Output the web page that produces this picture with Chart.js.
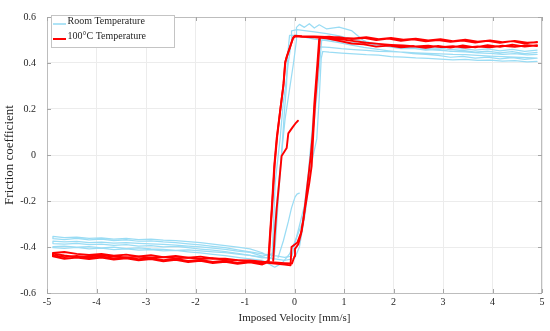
<!DOCTYPE html>
<html>
<head>
<meta charset="utf-8">
<script src="https://cdn.jsdelivr.net/npm/chart.js@4/dist/chart.umd.min.js"></script>
<style>
html,body{margin:0;padding:0;background:#fff;}
#wrap{width:550px;height:331px;position:relative;}
</style>
</head>
<body>
<div id="wrap"><canvas id="c" width="550" height="331"></canvas></div>
<script>
// ---- axis ticks ----
const xTicks = [-5,-4,-3,-2,-1,0,1,2,3,4,5];
const yTicks = [-0.6,-0.4,-0.2,0,0.2,0.4,0.6];
const yTickLabels = ['-0.6','-0.4','-0.2','0','0.2','0.4','0.6'];
const seriesNames = ['Room Temperature','100°C Temperature'];

// ---- shared velocity sampling for the plateaus (mm/s) ----
const vTopDesc = [4.9,4.65,4.4,4.15,3.9,3.65,3.4,3.15,2.9,2.65,2.4,2.15,1.9,1.65,1.4,1.15,0.9,0.65];
const vTopAsc  = [0.7,0.95,1.2,1.45,1.7,1.95,2.2,2.45,2.7,2.95,3.2,3.45,3.7,3.95,4.2,4.45,4.7,4.9];
const vBotDesc = [-0.65,-0.9,-1.15,-1.4,-1.65,-1.9,-2.15,-2.4,-2.65,-2.9,-3.15,-3.4,-3.65,-3.9,-4.15,-4.4,-4.65,-4.88];
const vBotAsc  = [-4.88,-4.65,-4.4,-4.15,-3.9,-3.65,-3.4,-3.15,-2.9,-2.65,-2.4,-2.15,-1.9,-1.65,-1.4,-1.15,-0.9,-0.65];

// ---- 100°C, cycle 1 ----
const r1TopL = [0.492,0.484,0.495,0.488,0.497,0.489,0.498,0.492,0.500,0.494,0.503,0.496,0.506,0.500,0.509,0.504,0.512,0.513];
const r1LeftV = [0.4,0.15,0.01,-0.024,-0.158,-0.19,-0.226,-0.293,-0.36,-0.41,-0.46,-0.50,-0.53];
const r1LeftF = [0.515,0.516,0.519,0.512,0.427,0.40,0.30,0.187,0.072,-0.05,-0.233,-0.36,-0.46];
const r1BotL = [-0.471,-0.463,-0.469,-0.460,-0.465,-0.456,-0.461,-0.452,-0.457,-0.448,-0.453,-0.445,-0.450,-0.441,-0.447,-0.439,-0.444,-0.436];
const r1BotR = [-0.426,-0.422,-0.430,-0.435,-0.430,-0.438,-0.433,-0.441,-0.436,-0.444,-0.439,-0.447,-0.442,-0.450,-0.451,-0.457,-0.458,-0.464];
const r1RightV = [-0.4,-0.2,-0.05,0.0,0.01,0.077,0.145,0.212,0.30,0.347,0.38,0.414,0.475,0.515];
const r1RightF = [-0.467,-0.470,-0.472,-0.44,-0.408,-0.388,-0.332,-0.233,-0.12,-0.047,0.094,0.221,0.39,0.512];
const r1TopR = [0.514,0.509,0.507,0.512,0.503,0.509,0.501,0.506,0.498,0.503,0.495,0.501,0.493,0.498,0.490,0.496,0.488,0.490];

// ---- 100°C, cycle 2 ----
const r2TopL = [0.477,0.471,0.480,0.470,0.477,0.468,0.476,0.467,0.474,0.466,0.473,0.468,0.476,0.471,0.481,0.485,0.496,0.507];
const r2LeftV = [0.4,0.15,0.02,-0.03,-0.15,-0.185,-0.22,-0.29,-0.35,-0.40,-0.45,-0.49,-0.52];
const r2LeftF = [0.512,0.514,0.516,0.508,0.43,0.405,0.31,0.19,0.08,-0.04,-0.22,-0.35,-0.465];
const r2BotL = [-0.476,-0.467,-0.473,-0.464,-0.470,-0.460,-0.466,-0.456,-0.462,-0.452,-0.458,-0.449,-0.455,-0.446,-0.452,-0.446,-0.451,-0.441];
const r2BotR = [-0.429,-0.437,-0.444,-0.440,-0.436,-0.441,-0.445,-0.442,-0.447,-0.444,-0.449,-0.446,-0.452,-0.449,-0.455,-0.458,-0.462,-0.467];
const r2RightV = [-0.4,-0.2,-0.08,-0.06,0.06,0.13,0.18,0.245,0.33,0.37,0.40,0.46,0.50];
const r2RightF = [-0.472,-0.476,-0.48,-0.40,-0.38,-0.34,-0.28,-0.16,0.0,0.10,0.22,0.39,0.51];
const r2TopR = [0.511,0.503,0.495,0.488,0.483,0.479,0.476,0.472,0.475,0.469,0.473,0.467,0.472,0.468,0.475,0.470,0.477,0.474];

// ---- 100°C, initial loading ----
const redStartV = [0.07,0.03,-0.04,-0.125,-0.158,-0.26,-0.31,-0.36,-0.40,-0.43];
const redStartF = [0.149,0.14,0.12,0.094,0.03,-0.004,-0.12,-0.233,-0.35,-0.46];

// ---- Room temperature, cycle 1 ----
const b1TopL = [0.446,0.441,0.449,0.444,0.452,0.447,0.455,0.451,0.459,0.456,0.464,0.462,0.471,0.478,0.497,0.541,0.556,0.548];
const b1LeftV = [0.5,0.4,0.3,0.2,0.1,0.04,0.04,-0.02,-0.09,-0.19,-0.26,-0.33,-0.40,-0.44,-0.47];
const b1LeftF = [0.566,0.552,0.571,0.555,0.568,0.555,0.50,0.40,0.30,0.157,0.008,-0.15,-0.30,-0.42,-0.445];
const b1BotL = [-0.447,-0.436,-0.431,-0.424,-0.421,-0.417,-0.413,-0.415,-0.410,-0.408,-0.404,-0.407,-0.401,-0.404,-0.398,-0.401,-0.396,-0.398];
const b1BotR = [-0.403,-0.406,-0.402,-0.408,-0.405,-0.411,-0.408,-0.414,-0.411,-0.417,-0.415,-0.421,-0.426,-0.432,-0.437,-0.445,-0.452,-0.458];
const b1RightV = [-0.4,-0.25,-0.1,0.0,0.15,0.25,0.32,0.40,0.47,0.53,0.55];
const b1RightF = [-0.488,-0.47,-0.43,-0.38,-0.30,-0.16,0.0,0.15,0.30,0.45,0.50];
const b1TopR = [0.502,0.494,0.488,0.481,0.475,0.470,0.466,0.462,0.458,0.455,0.451,0.448,0.444,0.442,0.438,0.441,0.435,0.437];

// ---- Room temperature, cycle 2 ----
const b2TopL = [0.456,0.451,0.459,0.453,0.461,0.456,0.463,0.458,0.466,0.462,0.469,0.467,0.476,0.484,0.493,0.505,0.518,0.528];
const b2LeftV = [0.4,0.2,0.05,-0.06,-0.06,-0.125,-0.18,-0.226,-0.29,-0.39,-0.43,-0.45];
const b2LeftF = [0.535,0.541,0.545,0.54,0.498,0.40,0.30,0.23,0.072,-0.119,-0.33,-0.43];
const b2BotL = [-0.440,-0.423,-0.418,-0.410,-0.405,-0.399,-0.396,-0.392,-0.389,-0.386,-0.384,-0.381,-0.383,-0.379,-0.381,-0.376,-0.378,-0.374];
const b2BotR = [-0.385,-0.388,-0.384,-0.390,-0.387,-0.393,-0.390,-0.396,-0.394,-0.399,-0.397,-0.403,-0.409,-0.414,-0.420,-0.428,-0.436,-0.444];
const b2RightV = [-0.4,-0.2,0.0,0.1,0.22,0.33,0.45,0.50,0.54,0.57];
const b2RightF = [-0.452,-0.458,-0.45,-0.40,-0.25,-0.05,0.07,0.25,0.42,0.45];
const b2TopR = [0.447,0.443,0.440,0.436,0.434,0.428,0.426,0.422,0.420,0.417,0.414,0.416,0.411,0.413,0.408,0.410,0.405,0.407];

// ---- Room temperature, cycle 3 ----
const b3TopL = [0.421,0.416,0.423,0.418,0.426,0.421,0.429,0.425,0.433,0.437,0.441,0.447,0.453,0.460,0.468,0.478,0.489,0.497];
const b3LeftV = [0.4,0.2,0.0,-0.1,-0.14,-0.16,-0.2,-0.26,-0.33,-0.39,-0.42];
const b3LeftF = [0.504,0.512,0.520,0.52,0.43,0.306,0.2,0.008,-0.2,-0.40,-0.455];
const b3BotL = [-0.425,-0.408,-0.401,-0.394,-0.388,-0.381,-0.377,-0.372,-0.370,-0.366,-0.368,-0.363,-0.366,-0.360,-0.362,-0.357,-0.359,-0.354];
const b3BotR = [-0.364,-0.368,-0.363,-0.369,-0.366,-0.372,-0.369,-0.375,-0.373,-0.378,-0.381,-0.386,-0.391,-0.397,-0.403,-0.412,-0.421,-0.430];
const b3RightV = [-0.4,-0.2,-0.05,0.05,0.2,0.28,0.36,0.44,0.50,0.52];
const b3RightF = [-0.438,-0.445,-0.44,-0.35,-0.22,-0.08,0.12,0.30,0.45,0.47];
const b3TopR = [0.468,0.462,0.458,0.455,0.451,0.449,0.447,0.444,0.442,0.440,0.437,0.436,0.433,0.430,0.428,0.426,0.423,0.421];

// ---- Room temperature, initial loading ----
const blueStartV = [0.097,0.05,0.01,-0.06,-0.125,-0.226,-0.33];
const blueStartF = [-0.166,-0.17,-0.183,-0.23,-0.29,-0.374,-0.445];

// ---------- build datasets ----------
function seg(vs, fs){ return vs.map((v,i)=>({x:v, y:fs[i]})); }
function cycle(topL, leftV, leftF, botL, botR, rightV, rightF, topR){
  return [].concat(seg(vTopDesc, topL), seg(leftV, leftF), seg(vBotDesc, botL),
                   seg(vBotAsc, botR), seg(rightV, rightF), seg(vTopAsc, topR));
}
const BLUE = '#9adcf4', RED = '#ff0000';
function ds(label, color, width, data, order){
  return {label, data, borderColor:color, backgroundColor:color, borderWidth:width,
          showLine:true, pointRadius:0, pointHoverRadius:0, tension:0, fill:false,
          borderJoinStyle:'round', borderCapStyle:'round', order};
}
const datasets = [
  ds(seriesNames[0], BLUE, 1.25, cycle(b1TopL,b1LeftV,b1LeftF,b1BotL,b1BotR,b1RightV,b1RightF,b1TopR), 1),
  ds('', BLUE, 1.25, cycle(b2TopL,b2LeftV,b2LeftF,b2BotL,b2BotR,b2RightV,b2RightF,b2TopR), 1),
  ds('', BLUE, 1.25, cycle(b3TopL,b3LeftV,b3LeftF,b3BotL,b3BotR,b3RightV,b3RightF,b3TopR), 1),
  ds('', BLUE, 1.25, seg(blueStartV, blueStartF), 1),
  ds(seriesNames[1], RED, 1.9, cycle(r1TopL,r1LeftV,r1LeftF,r1BotL,r1BotR,r1RightV,r1RightF,r1TopR), 0),
  ds('', RED, 1.9, cycle(r2TopL,r2LeftV,r2LeftF,r2BotL,r2BotR,r2RightV,r2RightF,r2TopR), 0),
  ds('', RED, 1.9, seg(redStartV, redStartF), 0)
];

const FONT = "'Liberation Serif', 'Times New Roman', serif";
const TXT = '#262626';

// box, inward ticks and in-plot legend
const framePlugin = {
  id: 'frame',
  beforeDraw(chart){
    const ctx = chart.ctx;
    ctx.save(); ctx.fillStyle = '#fff'; ctx.fillRect(0,0,chart.width,chart.height); ctx.restore();
  },
  afterDatasetsDraw(chart){
    const {ctx, chartArea:a, scales} = chart;
    ctx.save();
    ctx.strokeStyle = '#bdbdbd'; ctx.lineWidth = 1;
    ctx.strokeRect(Math.round(a.left)+0.5, Math.round(a.top)+0.5, Math.round(a.right-a.left)-1, Math.round(a.bottom-a.top));
    ctx.strokeStyle = '#a6a6a6';
    ctx.beginPath();
    xTicks.forEach(v=>{
      const x = Math.round(scales.x.getPixelForValue(v))+0.5;
      ctx.moveTo(x, a.bottom); ctx.lineTo(x, a.bottom-4);
      ctx.moveTo(x, a.top); ctx.lineTo(x, a.top+4);
    });
    yTicks.forEach(v=>{
      const y = Math.round(scales.y.getPixelForValue(v))+0.5;
      ctx.moveTo(a.left, y); ctx.lineTo(a.left+4, y);
      ctx.moveTo(a.right, y); ctx.lineTo(a.right-4, y);
    });
    ctx.stroke();
    // legend
    const lx = 51.5, ly = 15.5, lw = 123, lh = 32;
    ctx.fillStyle = '#fff'; ctx.fillRect(lx, ly, lw, lh);
    ctx.strokeStyle = '#c4c4c4'; ctx.strokeRect(lx, ly, lw, lh);
    const items = [{t:seriesNames[0], c:BLUE, w:1.6, y:24}, {t:seriesNames[1], c:RED, w:2, y:39}];
    ctx.font = '10px ' + FONT; ctx.textBaseline = 'alphabetic'; ctx.textAlign = 'left';
    items.forEach(it=>{
      ctx.strokeStyle = it.c; ctx.lineWidth = it.w;
      ctx.beginPath(); ctx.moveTo(53, it.y); ctx.lineTo(66, it.y); ctx.stroke();
      ctx.fillStyle = TXT; ctx.fillText(it.t, 67.5, it.y - 0.5);
    });
    ctx.restore();
  }
};

new Chart(document.getElementById('c'), {
  type: 'scatter',
  data: { datasets },
  plugins: [framePlugin],
  options: {
    responsive: false,
    animation: false,
    events: [],
    layout: { padding: { top: 11, right: 8, left: 0, bottom: 0 } },
    plugins: { legend: { display: false }, tooltip: { enabled: false } },
    scales: {
      x: {
        type: 'linear', min: -5, max: 5,
        afterFit(s){ s.height = 38; },
        afterBuildTicks(s){ s.ticks = xTicks.map(v=>({value:v})); },
        grid: { color: '#ececec', lineWidth: 1, drawTicks: false },
        border: { display: false },
        ticks: { font: { family: FONT, size: 10 }, color: TXT, padding: 3, maxRotation: 0,
                 callback: v => String(v) },
        title: { display: true, text: 'Imposed Velocity [mm/s]', font: { family: FONT, size: 11, lineHeight: 1.2 },
                 color: TXT, padding: { top: 0, bottom: 6 } }
      },
      y: {
        type: 'linear', min: -0.6, max: 0.6,
        afterFit(s){ s.width = 47; },
        afterBuildTicks(s){ s.ticks = yTicks.map(v=>({value:v})); },
        grid: { color: '#ececec', lineWidth: 1, drawTicks: false },
        border: { display: false },
        ticks: { font: { family: FONT, size: 10 }, color: TXT, padding: 11,
                 callback: (v, i) => yTickLabels[i] },
        title: { display: true, text: 'Friction coefficient', font: { family: FONT, size: 13, lineHeight: 1.2 },
                 color: TXT, padding: { top: 2, bottom: 0 } }
      }
    }
  }
});
</script>
</body>
</html>
